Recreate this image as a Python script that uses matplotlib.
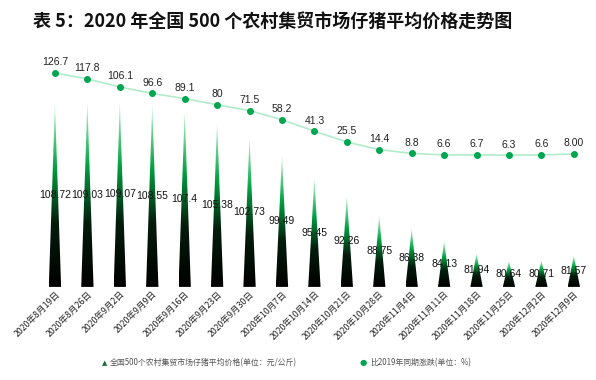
import numpy as np
import matplotlib
matplotlib.use("Agg")
import matplotlib.pyplot as plt
from matplotlib.colors import LinearSegmentedColormap
from matplotlib.patches import Polygon

plt.rcParams['font.family'] = ['Noto Sans CJK SC', 'DejaVu Sans']
num_font = ['Liberation Sans', 'DejaVu Sans']

# 数据
dates = ["2020年8月19日", "2020年8月26日", "2020年9月2日", "2020年9月9日",
         "2020年9月16日", "2020年9月23日", "2020年9月30日", "2020年10月7日",
         "2020年10月14日", "2020年10月21日", "2020年10月28日", "2020年11月4日",
         "2020年11月11日", "2020年11月18日", "2020年11月25日", "2020年12月2日",
         "2020年12月9日"]
price = [108.72, 109.03, 109.07, 108.55, 107.4, 105.38, 102.73, 99.49,
         95.45, 92.26, 88.75, 86.38, 84.13, 81.94, 80.64, 80.71, 81.57]
change = [126.7, 117.8, 106.1, 96.6, 89.1, 80, 71.5, 58.2,
          41.3, 25.5, 14.4, 8.8, 6.6, 6.7, 6.3, 6.6, 8.00]
change_lbl = ["126.7", "117.8", "106.1", "96.6", "89.1", "80", "71.5", "58.2",
              "41.3", "25.5", "14.4", "8.8", "6.6", "6.7", "6.3", "6.6", "8.00"]

fig = plt.figure(figsize=(5.96, 3.8), dpi=100)
fig.text(0.458, 0.945, "表 5：2020 年全国 500 个农村集贸市场仔猪平均价格走势图",
         ha='center', va='center', fontsize=13, fontweight='bold', color='#111111')

ax = fig.add_axes([0.065, 0.245, 0.925, 0.605])
ymin, ymax = 76, 117.1
x = np.arange(len(dates))

cmap = LinearSegmentedColormap.from_list(
    "spike", [(0, "#000000"), (0.35, "#041c0c"), (0.65, "#00a040"), (1.0, "#c0f7d5")])
grad = np.linspace(0, 1, 256).reshape(-1, 1)
half = 0.19
for xi, v in zip(x, price):
    tri = Polygon([(xi - half, ymin), (xi + half, ymin), (xi, v)], closed=True,
                  transform=ax.transData, facecolor='none', edgecolor='none')
    ax.add_patch(tri)
    im = ax.imshow(grad, cmap=cmap, origin='lower', aspect='auto',
                   extent=(xi - half, xi + half, ymin, v), zorder=2)
    im.set_clip_path(tri)
    ax.text(xi, (ymin + v) / 2, f"{v:g}", ha='center', va='center',
            fontsize=7.5, color='#111111', zorder=4, family=num_font)

ax.set_xlim(-0.5, len(dates) - 0.5)
ax.set_ylim(ymin, ymax)
ax.set_yticks([])
ax.set_xticks(x)
ax.set_xticklabels(dates, rotation=45, ha='right', rotation_mode='anchor',
                   fontsize=6.3, color='#222222')
ax.tick_params(axis='x', length=0, pad=2)
for s in ax.spines.values():
    s.set_visible(False)

ax2 = ax.twinx()
ax2.plot(x, change, color='#b2ecca', lw=1.2, zorder=3)
ax2.scatter(x, change, s=16, color='#00a550', zorder=5)
for xi, v, t in zip(x, change, change_lbl):
    ax2.annotate(t, (xi, v), xytext=(0, 4), textcoords='offset points',
                 ha='center', va='bottom', fontsize=7.5, color='#222222',
                 family=num_font)
ax2.set_ylim(-186.7, 150)
ax2.set_yticks([])
for s in ax2.spines.values():
    s.set_visible(False)

# 图例
fig.text(0.175, 0.045, "▲", color='#1f6b3a', fontsize=5, ha='center', va='center',
         family=['DejaVu Sans'])
fig.text(0.185, 0.045, "全国500个农村集贸市场仔猪平均价格(单位：元/公斤)",
         fontsize=5.7, color='#555555', ha='left', va='center')
fig.text(0.610, 0.045, "●", color='#00a550', fontsize=6, ha='center', va='center',
         family=['DejaVu Sans'])
fig.text(0.621, 0.045, "比2019年同期涨跌(单位：%)",
         fontsize=5.7, color='#555555', ha='left', va='center')

fig.savefig("out.png", dpi=100)
